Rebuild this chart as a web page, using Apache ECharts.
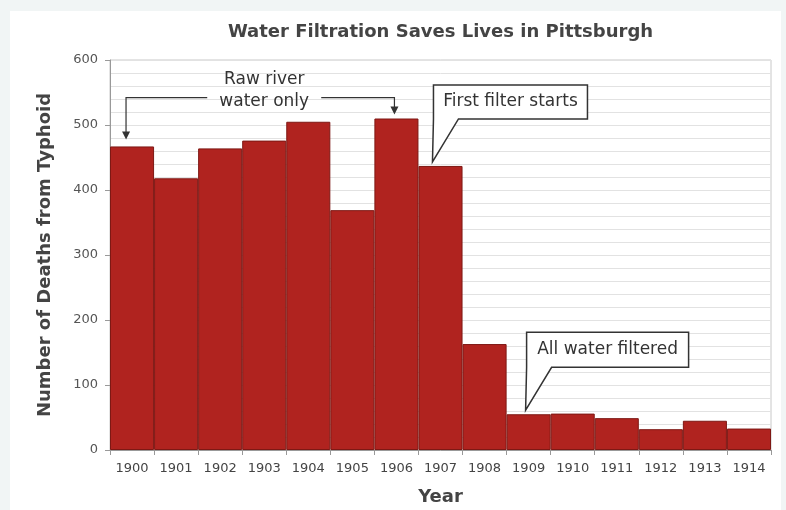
<!DOCTYPE html>
<html>
<head>
<meta charset="utf-8">
<script src="https://cdn.jsdelivr.net/npm/echarts@6/dist/echarts.min.js"></script>
<style>
html,body{margin:0;padding:0;background:#f1f5f5;overflow:hidden;}
#panel{position:absolute;left:10px;top:11px;width:771px;height:499px;background:#fff;}
#chart{position:absolute;left:0;top:0;width:786px;height:510px;}
</style>
</head>
<body>
<div id="panel"></div>
<div id="chart"></div>
<script>
const years = ['1900','1901','1902','1903','1904','1905','1906','1907','1908','1909','1910','1911','1912','1913','1914'];
const deaths = [467, 418, 464, 476, 505, 369, 510, 437, 163, 55, 56, 49, 32, 45, 33];
const yTicks = [0, 100, 200, 300, 400, 500, 600];

const FONT = 'DejaVu Sans';
const chart = echarts.init(document.getElementById('chart'), null, {renderer: 'canvas'});

const option = {
  backgroundColor: 'transparent',
  animation: false,
  grid: {left: 110, right: 15, top: 60, bottom: 60, containLabel: false, outerBoundsMode: 'none',
         show: true, borderColor: '#c8c8c8', borderWidth: 1, backgroundColor: 'transparent'},
  xAxis: {
    type: 'category',
    data: years,
    name: 'Year',
    nameLocation: 'middle',
    nameGap: 38,
    nameTextStyle: {fontFamily: FONT, fontWeight: 'bold', fontSize: 18, color: '#444'},
    axisLine: {lineStyle: {color: '#999'}},
    axisTick: {show: true, length: 5, lineStyle: {color: '#999'}},
    axisLabel: {fontFamily: FONT, fontSize: 13, color: '#444', margin: 12, interval: 0}
  },
  yAxis: {
    type: 'value',
    min: yTicks[0],
    max: yTicks[yTicks.length - 1],
    interval: 100,
    name: 'Number of Deaths from Typhoid',
    nameLocation: 'middle',
    nameGap: 56,
    nameTextStyle: {fontFamily: FONT, fontWeight: 'bold', fontSize: 18, color: '#444'},
    axisLine: {show: true, lineStyle: {color: '#999'}},
    axisTick: {show: true, length: 5, lineStyle: {color: '#999'}},
    axisLabel: {fontFamily: FONT, fontSize: 13, color: '#555', margin: 12},
    splitLine: {show: true, lineStyle: {color: '#e2e2e2', width: 1}},
    minorTick: {show: false, splitNumber: 5},
    minorSplitLine: {show: true, lineStyle: {color: '#e2e2e2', width: 1}}
  },
  series: [{
    type: 'bar',
    data: deaths,
    barCategoryGap: '0%',
    itemStyle: {color: '#b0231f', borderColor: '#7e1814', borderWidth: 1}
  }]
};
chart.setOption(option);

function px(idx, val) { return chart.convertToPixel({xAxisIndex: 0, yAxisIndex: 0}, [idx, val]); }

function buildGraphics() {
  const els = [];
  const stroke = '#333';
  // Title
  const gl = px(0, 600)[0] - 22, gr = px(14, 600)[0] + 22;
  els.push({type: 'text', x: (gl + gr) / 2, y: 32, style: {text: 'Water Filtration Saves Lives in Pittsburgh', font: 'bold 18px ' + FONT, fill: '#444', align: 'center', verticalAlign: 'middle'}});

  // Raw river water only bracket
  const pL = px(0, deaths[0]);
  const pR = px(6, deaths[6]);
  const pT = px(3, 542);
  const by = pT[1];
  const lx = pL[0] - 6, rx = pR[0] - 2;
  els.push({type: 'text', x: pT[0], y: by - 18, style: {text: 'Raw river', font: '17px ' + FONT, fill: '#333', align: 'center', verticalAlign: 'middle'}});
  els.push({type: 'text', x: pT[0], y: by + 4, style: {text: 'water only', font: '17px ' + FONT, fill: '#333', align: 'center', verticalAlign: 'middle'}});
  els.push({type: 'polyline', shape: {points: [[lx, pL[1] - 14], [lx, by], [pT[0] - 57, by]]}, style: {stroke: stroke, lineWidth: 1.2, fill: null}});
  els.push({type: 'polyline', shape: {points: [[pT[0] + 57, by], [rx, by], [rx, pR[1] - 11]]}, style: {stroke: stroke, lineWidth: 1.2, fill: null}});
  els.push({type: 'polygon', shape: {points: [[lx - 4, pL[1] - 15], [lx + 4, pL[1] - 15], [lx, pL[1] - 7]]}, style: {fill: stroke}});
  els.push({type: 'polygon', shape: {points: [[rx - 4, pR[1] - 12], [rx + 4, pR[1] - 12], [rx, pR[1] - 4]]}, style: {fill: stroke}});

  // Callout boxes
  function callout(idx, text, boxW, boxH, dyBox, dx) {
    const p = px(idx, deaths[idx]);
    const bw = px(1, 0)[0] - px(0, 0)[0];
    const tipX = p[0] - bw / 2 + dx;
    const tipY = p[1] - 4;
    const bl = tipX + 1, bb = tipY - dyBox, bt = bb - boxH, br = bl + boxW;
    els.push({type: 'polygon', shape: {points: [[bl, bt], [br, bt], [br, bb], [bl + 25, bb], [tipX, tipY], [bl, bb]]}, style: {fill: '#fff', stroke: stroke, lineWidth: 1.5}});
    els.push({type: 'text', x: (bl + br) / 2, y: (bt + bb) / 2, style: {text: text, font: '17px ' + FONT, fill: '#333', align: 'center', verticalAlign: 'middle'}});
  }
  callout(7, 'First filter starts', 154, 34, 43, 14);
  callout(9, 'All water filtered', 162, 35, 43, 19);
  chart.setOption({graphic: {elements: els}});
}
buildGraphics();
</script>
</body>
</html>
